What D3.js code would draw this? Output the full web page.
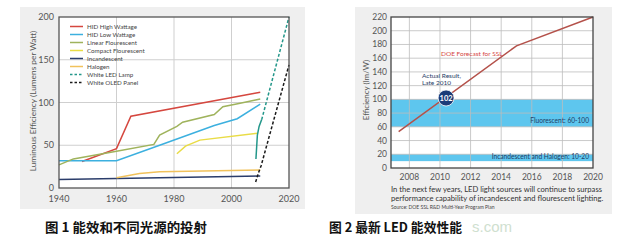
<!DOCTYPE html>
<html>
<head>
<meta charset="utf-8">
<script src="https://cdn.jsdelivr.net/npm/d3@7"></script>
<style>
  body { margin: 0; background: #fff; }
  svg { display: block; font-family: 'Lato', 'DejaVu Sans', sans-serif; }
</style>
</head>
<body>
<div id="chart"></div>
<script>
(function () {
    'use strict';

    // ---- figure 1 data ----
    const seriesNames = ['HID High Wattage', 'HID Low Wattage', 'Linear Flourescent', 'Compact Flourescent',
        'Incandescent', 'Halogen', 'White LED Lamp', 'White OLED Panel'];
    const hidHigh = [[1948, 31], [1960, 46], [1965, 84], [2010, 112]];
    const hidLow = [[1940, 32], [1960, 32], [1975, 50], [1994, 73], [2002, 81], [2010, 98]];
    const linearFluor = [[1940, 27], [1945, 34], [1960, 43], [1973, 51], [1975, 62], [1981, 72], [1983, 77],
        [1994, 86], [1997, 95], [2003, 99], [2010, 104]];
    const compactFluor = [[1981, 40], [1984, 49], [1989, 56], [2009, 64]];
    const incandescent = [[1940, 10], [1960, 11], [2010, 14]];
    const halogen = [[1960, 12], [1968, 17], [1975, 19], [2010, 21]];
    const ledLamp = [[2008.5, 34], [2009, 62], [2009.6, 72], [2010.5, 80]];
    const ledProjection = [[2010.5, 80], [2020, 200]];
    const oledPanel = [[2008.4, 7], [2009.3, 17], [2010.3, 26], [2020, 144]];
    const xTicks1 = [1940, 1960, 1980, 2000, 2020];
    const yTicks1 = [0, 50, 100, 150, 200];

    // ---- figure 2 data ----
    const forecast = [[2007.3, 53], [2015, 178], [2020, 220]];
    const actual = { year: 2010.4, value: 102 };
    const bands = [
        { label: 'Fluorescent: 60-100', lo: 60, hi: 100 },
        { label: 'Incandescent and Halogen: 10-20', lo: 10, hi: 20 }
    ];
    const xTicks2 = [2008, 2010, 2012, 2014, 2016, 2018, 2020];
    const yTicks2 = d3.range(0, 221, 20);

    const colors = ['#d5473f', '#3cb0df', '#9fb35c', '#e9dc46', '#2b3d6b', '#f1c25c', '#23978a', '#1a1a1a'];

    const svg = d3.select('#chart').append('svg')
        .attr('width', 627).attr('height', 252);
    svg.append('rect').attr('width', 627).attr('height', 252).attr('fill', '#fff');

    // ================= figure 1 =================
    const g1 = svg.append('g');
    g1.append('rect').attr('x', 20).attr('y', 7).attr('width', 285).attr('height', 202).attr('fill', '#efefef');

    const x1 = d3.scaleLinear().domain([1940, 2020]).range([59, 289]);
    const y1 = d3.scaleLinear().domain([0, 200]).range([188, 17]);

    g1.append('rect').attr('x', x1(1940)).attr('y', y1(200))
        .attr('width', x1(2020) - x1(1940)).attr('height', y1(0) - y1(200)).attr('fill', '#fff');

    g1.append('g').selectAll('line').data(xTicks1.slice(1, -1)).join('line')
        .attr('x1', d => x1(d)).attr('x2', d => x1(d)).attr('y1', y1(0)).attr('y2', y1(200))
        .attr('stroke', '#cfcfcf').attr('stroke-width', 1);
    g1.append('g').selectAll('line').data(yTicks1.slice(1, -1)).join('line')
        .attr('x1', x1(1940)).attr('x2', x1(2020)).attr('y1', d => y1(d)).attr('y2', d => y1(d))
        .attr('stroke', '#cfcfcf').attr('stroke-width', 1);

    const line1 = d3.line().x(d => x1(d[0])).y(d => y1(d[1]));
    const solid = [hidHigh, hidLow, linearFluor, compactFluor, incandescent, halogen];
    solid.forEach((s, i) => {
        g1.append('path').datum(s).attr('d', line1).attr('fill', 'none')
            .attr('stroke', colors[i]).attr('stroke-width', 1.5);
    });
    g1.append('path').datum(ledLamp).attr('d', line1).attr('fill', 'none')
        .attr('stroke', colors[6]).attr('stroke-width', 1.5);
    g1.append('path').datum(ledProjection).attr('d', line1).attr('fill', 'none')
        .attr('stroke', colors[6]).attr('stroke-width', 1.5).attr('stroke-dasharray', '3,2');
    g1.append('path').datum(oledPanel).attr('d', line1).attr('fill', 'none')
        .attr('stroke', colors[7]).attr('stroke-width', 1.5).attr('stroke-dasharray', '3,2');

    g1.append('rect').attr('x', x1(1940)).attr('y', y1(200))
        .attr('width', x1(2020) - x1(1940)).attr('height', y1(0) - y1(200))
        .attr('fill', 'none').attr('stroke', '#555').attr('stroke-width', 1.3);

    g1.append('g').selectAll('text').data(xTicks1).join('text')
        .attr('x', d => x1(d)).attr('y', 202).attr('text-anchor', 'middle')
        .attr('font-size', 9).attr('fill', '#555').text(d => d);
    g1.append('g').selectAll('text').data(yTicks1).join('text')
        .attr('x', 54).attr('y', d => y1(d) + 3).attr('text-anchor', 'end')
        .attr('font-size', 9).attr('fill', '#555').text(d => d);

    g1.append('text').attr('transform', 'translate(36,101) rotate(-90)')
        .attr('text-anchor', 'middle').attr('font-size', 8.3).attr('fill', '#555')
        .text('Luminous Efficiency (Lumens per Watt)');

    const legend = g1.append('g').selectAll('g').data(seriesNames).join('g')
        .attr('transform', (d, i) => `translate(70,${26.5 + i * 8})`);
    legend.append('line').attr('x1', 0).attr('x2', 13)
        .attr('stroke', (d, i) => colors[i]).attr('stroke-width', 1.5)
        .attr('stroke-dasharray', (d, i) => i >= 6 ? '2.5,2' : null);
    legend.append('text').attr('x', 17).attr('y', 2.3).attr('font-size', 6.2).attr('fill', '#444')
        .text(d => d);

    // ================= figure 2 =================
    const g2 = svg.append('g');
    g2.append('rect').attr('x', 355).attr('y', 7).attr('width', 257).attr('height', 207).attr('fill', '#efefef');

    const x2 = d3.scaleLinear().domain([2006.8, 2020]).range([391, 593]);
    const y2 = d3.scaleLinear().domain([0, 220]).range([168, 17]);

    g2.append('rect').attr('x', x2(2006.8)).attr('y', y2(220))
        .attr('width', x2(2020) - x2(2006.8)).attr('height', y2(0) - y2(220)).attr('fill', '#fff');

    g2.append('g').selectAll('rect').data(bands).join('rect')
        .attr('x', x2(2006.8)).attr('y', d => y2(d.hi))
        .attr('width', x2(2020) - x2(2006.8)).attr('height', d => y2(d.lo) - y2(d.hi))
        .attr('fill', '#5ec6ee');

    g2.append('g').selectAll('line').data(xTicks2.slice(0, -1)).join('line')
        .attr('x1', d => x2(d)).attr('x2', d => x2(d)).attr('y1', y2(0)).attr('y2', y2(220))
        .attr('stroke', '#bdbdbd').attr('stroke-width', 0.8);
    g2.append('g').selectAll('line').data(yTicks2.slice(1, -1)).join('line')
        .attr('x1', x2(2006.8)).attr('x2', x2(2020)).attr('y1', d => y2(d)).attr('y2', d => y2(d))
        .attr('stroke', '#bdbdbd').attr('stroke-width', 0.8);

    g2.append('g').selectAll('text').data(bands).join('text')
        .attr('x', x2(2020) - 4).attr('y', d => y2(d.lo) - 3.5 - (d.hi - d.lo > 20 ? 0 : -1))
        .attr('text-anchor', 'end').attr('font-size', 6.6).attr('fill', '#1f3d66')
        .text(d => d.label);

    const line2 = d3.line().x(d => x2(d[0])).y(d => y2(d[1]));
    g2.append('path').datum(forecast).attr('d', line2).attr('fill', 'none')
        .attr('stroke', '#b4514a').attr('stroke-width', 1.5);

    g2.append('rect').attr('x', x2(2006.8)).attr('y', y2(220))
        .attr('width', x2(2020) - x2(2006.8)).attr('height', y2(0) - y2(220))
        .attr('fill', 'none').attr('stroke', '#444').attr('stroke-width', 1.3);

    g2.append('circle').attr('cx', x2(actual.year)).attr('cy', y2(actual.value)).attr('r', 8)
        .attr('fill', '#1b3b78').attr('stroke', '#fff').attr('stroke-width', 0.8);
    g2.append('text').attr('x', x2(actual.year)).attr('y', y2(actual.value) + 2.6)
        .attr('text-anchor', 'middle').attr('font-size', 7.5).attr('font-weight', 'bold')
        .attr('fill', '#fff').text(actual.value);

    g2.append('text').attr('x', 422).attr('y', 78).attr('font-size', 6.5).attr('fill', '#1f3d66')
        .text('Actual Result,');
    g2.append('text').attr('x', 422).attr('y', 85).attr('font-size', 6.5).attr('fill', '#1f3d66')
        .text('Late 2010');
    g2.append('text').attr('x', 441).attr('y', 55.5).attr('font-size', 6.5).attr('fill', '#d5473f')
        .text('DOE Forecast for SSL');

    g2.append('g').selectAll('text').data(xTicks2).join('text')
        .attr('x', d => x2(d)).attr('y', 180).attr('text-anchor', 'middle')
        .attr('font-size', 8.5).attr('fill', '#555').text(d => d);
    g2.append('g').selectAll('text').data(yTicks2).join('text')
        .attr('x', 387).attr('y', d => y2(d) + 3).attr('text-anchor', 'end')
        .attr('font-size', 8.5).attr('fill', '#555').text(d => d);

    g2.append('text').attr('transform', 'translate(369,90) rotate(-90)')
        .attr('text-anchor', 'middle').attr('font-size', 8).attr('fill', '#555')
        .text('Efficiency (lm/W)');

    g2.append('text').attr('x', 391).attr('y', 192).attr('font-size', 7.6).attr('fill', '#333')
        .text('In the next few years, LED light sources will continue to surpass');
    g2.append('text').attr('x', 391).attr('y', 201).attr('font-size', 7.6).attr('fill', '#333')
        .text('performance capability of incandescent and flourescent lighting.');
    g2.append('text').attr('x', 391).attr('y', 209).attr('font-size', 5).attr('fill', '#444')
        .text('Source: DOE SSL R&D Multi-Year Program Plan');

    // ================= captions =================
    svg.append('text').attr('x', 472).attr('y', 232).attr('font-size', 15)
        .attr('font-family', "'Liberation Sans', sans-serif").attr('fill', '#cfe0cf').text('s.com');
    const cap = svg.append('g').attr('font-family', "'Noto Sans CJK SC', sans-serif")
        .attr('font-size', 13).attr('font-weight', 'bold').attr('fill', '#111');
    cap.append('text').attr('x', 45).attr('y', 232)
        .attr('textLength', 162).attr('lengthAdjust', 'spacingAndGlyphs').text('图 1 能效和不同光源的投射');
    cap.append('text').attr('x', 329).attr('y', 232)
        .attr('textLength', 133).attr('lengthAdjust', 'spacingAndGlyphs').text('图 2 最新 LED 能效性能');
})();
</script>
</body>
</html>
